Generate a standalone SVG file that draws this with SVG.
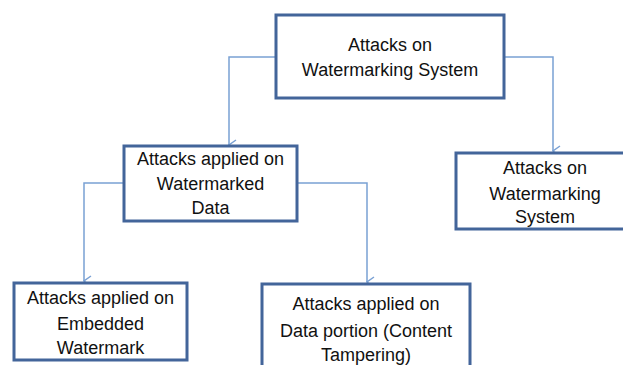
<svg xmlns="http://www.w3.org/2000/svg" width="623" height="365" viewBox="0 0 623 365">
<style>
.box{fill:#fff;stroke:#43659a;stroke-width:3}
.t{font-family:"Liberation Sans",Arial,sans-serif;font-size:18px;fill:#111;text-anchor:middle}
.c{fill:none;stroke:#7aa1d4;stroke-width:1.5}
</style>
<defs>
<marker id="ah" viewBox="0 0 12 10" refX="6" refY="9" markerWidth="12" markerHeight="10" markerUnits="userSpaceOnUse" orient="auto-start-reverse">
<path d="M1 2 L6 9 L11 2" fill="none" stroke="#7aa1d4" stroke-width="1.5"/>
</marker>
</defs>
<rect width="623" height="365" fill="#fff"/>
<g id="connectors">
<path class="c" d="M276 57 H229 V145" marker-end="url(#ah)"/>
<path class="c" d="M504 57 H553 V151" marker-end="url(#ah)"/>
<path class="c" d="M124 183 H84 V281" marker-end="url(#ah)"/>
<path class="c" d="M297 183 H367 V282" marker-end="url(#ah)"/>
</g>
<g id="root">
<rect class="box" x="276" y="15" width="228" height="83"/>
<text class="t" x="390" y="51">Attacks on</text>
<text class="t" x="390" y="76">Watermarking System</text>
</g>
<g id="watermarked-data">
<rect class="box" x="124" y="146" width="173" height="75"/>
<text class="t" x="210.5" y="165">Attacks applied on</text>
<text class="t" x="210.5" y="190">Watermarked</text>
<text class="t" x="210.5" y="214">Data</text>
</g>
<g id="watermarking-system">
<rect class="box" x="456" y="153" width="180" height="76"/>
<text class="t" x="545" y="174">Attacks on</text>
<text class="t" x="545" y="200">Watermarking</text>
<text class="t" x="545" y="223">System</text>
</g>
<g id="embedded-watermark">
<rect class="box" x="14" y="283" width="173" height="77"/>
<text class="t" x="100.5" y="304">Attacks applied on</text>
<text class="t" x="100.5" y="330">Embedded</text>
<text class="t" x="100.5" y="354">Watermark</text>
</g>
<g id="data-portion">
<rect class="box" x="262" y="284" width="208" height="90"/>
<text class="t" x="366" y="310">Attacks applied on</text>
<text class="t" x="366" y="337">Data portion (Content</text>
<text class="t" x="366" y="361">Tampering)</text>
</g>
</svg>
